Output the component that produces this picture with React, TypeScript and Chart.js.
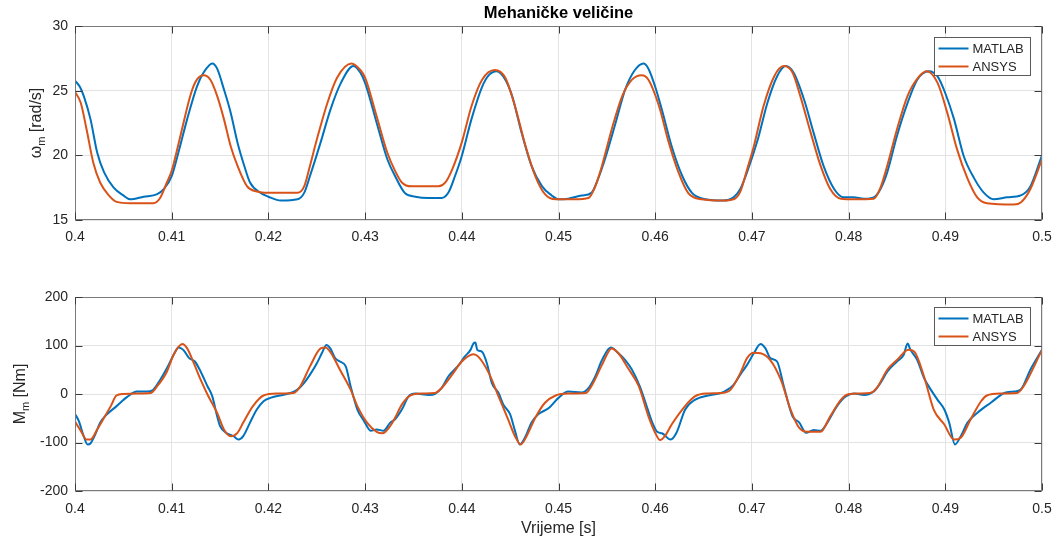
import { useEffect, useRef } from 'react';
import { Chart, registerables } from 'chart.js';

Chart.register(...registerables);

// ---------- data ----------
const seriesNames = ['MATLAB', 'ANSYS'];
const xTicks = [0.4, 0.41, 0.42, 0.43, 0.44, 0.45, 0.46, 0.47, 0.48, 0.49, 0.5];
const xTickLabels = ['0.4', '0.41', '0.42', '0.43', '0.44', '0.45', '0.46', '0.47', '0.48', '0.49', '0.5'];
const omegaTicks = [15, 20, 25, 30];
const omegaTickLabels = ['15', '20', '25', '30'];
const torqueTicks = [-200, -100, 0, 100, 200];
const torqueTickLabels = ['-200', '-100', '0', '100', '200'];

const tOmegaMatlab = [
  0.4, 0.4005, 0.4009, 0.4016, 0.4023, 0.403, 0.404, 0.405, 0.4057, 0.4071, 0.4085, 0.4092, 0.41, 0.4106, 0.4116,
  0.4126, 0.4133, 0.4142, 0.4147, 0.4154, 0.4161, 0.4168, 0.4175, 0.4181, 0.4192, 0.42, 0.4213, 0.423,
  0.4237, 0.4243, 0.4254, 0.4264, 0.4275, 0.4288, 0.4295, 0.43, 0.4312, 0.4323, 0.4331, 0.4341, 0.4352,
  0.4366, 0.4379, 0.4386, 0.4393, 0.44, 0.441, 0.4421, 0.4428, 0.4436, 0.4445, 0.4452, 0.4462, 0.4472,
  0.4483, 0.4493, 0.45, 0.451, 0.4524, 0.4534, 0.4541, 0.4548, 0.4559, 0.4569, 0.4579, 0.4588, 0.4593,
  0.46, 0.4607, 0.4617, 0.4628, 0.4638, 0.4652, 0.467, 0.4681, 0.4688, 0.4695, 0.4706, 0.4716, 0.4726,
  0.4735, 0.4743, 0.4754, 0.4764, 0.4774, 0.4785, 0.4795, 0.4805, 0.4816, 0.4826, 0.4833, 0.484, 0.485,
  0.4861, 0.4871, 0.4883, 0.4892, 0.49, 0.4909, 0.4919, 0.493, 0.494, 0.495, 0.4964, 0.4978, 0.4988, 0.5,
];
const omegaMatlab = [
  25.77, 25.3, 24.6, 22.8, 20.2, 18.7, 17.5, 16.9, 16.6, 16.8, 17.0, 17.4, 18.4, 19.95, 22.8,
  25.3, 26.4, 27.1, 26.7, 25.1, 23.3, 21.0, 19.2, 17.9, 17.1, 16.8, 16.5, 16.6,
  17.1, 18.4, 21.0, 23.5, 25.6, 26.9, 26.4, 25.6, 22.5, 19.7, 18.4, 17.1, 16.8,
  16.7, 16.7, 17.1, 18.4, 19.95, 22.8, 25.3, 26.2, 26.5, 25.85, 24.6, 21.7, 19.2,
  17.6, 16.9, 16.6, 16.65, 16.9, 17.1, 18.2, 19.7, 22.5, 25.1, 26.6, 27.1, 26.7,
  25.3, 23.5, 20.7, 18.4, 17.1, 16.6, 16.5, 16.75, 17.4, 18.7, 21.2, 24.05, 26.1,
  26.9, 26.4, 24.3, 21.7, 19.2, 17.4, 16.75, 16.75, 16.65, 16.75, 17.4, 18.7, 21.5,
  24.05, 25.85, 26.5, 26.1, 24.8, 22.8, 19.95, 18.2, 17.1, 16.6, 16.75, 16.9, 17.6, 20.0,
];

const tOmegaAnsys = [
  0.4, 0.4006, 0.4012, 0.4019, 0.4026, 0.4035, 0.4043, 0.4057, 0.4081, 0.4088, 0.4095, 0.41, 0.4109, 0.412,
  0.4126, 0.4133, 0.414, 0.4147, 0.4154, 0.4161, 0.4168, 0.4178, 0.4188, 0.42, 0.423, 0.4237, 0.4243, 0.425,
  0.4261, 0.4271, 0.4286, 0.4295, 0.43, 0.4312, 0.4323, 0.4331, 0.4338, 0.4348, 0.4376, 0.4383, 0.439, 0.44,
  0.441, 0.4421, 0.4434, 0.4445, 0.4455, 0.4466, 0.4476, 0.4486, 0.4497, 0.4517, 0.4531, 0.4538, 0.4545,
  0.4555, 0.4566, 0.4576, 0.4586, 0.4593, 0.4604, 0.4614, 0.4624, 0.4634, 0.4648, 0.467, 0.4681, 0.4688,
  0.4695, 0.4702, 0.4712, 0.4723, 0.4733, 0.4742, 0.475, 0.4761, 0.4771, 0.4781, 0.4792, 0.4806, 0.4826,
  0.4833, 0.484, 0.485, 0.4861, 0.4873, 0.4881, 0.4892, 0.4902, 0.4912, 0.4923, 0.4933, 0.4943, 0.4971,
  0.4978, 0.4988, 0.5,
];
const omegaAnsys = [
  24.9, 24.05, 22.0, 19.4, 17.9, 16.9, 16.4, 16.3, 16.3, 16.7, 17.9, 18.8, 21.5, 24.8,
  25.85, 26.2, 25.85, 24.6, 22.8, 20.7, 19.2, 17.6, 17.2, 17.1, 17.1, 17.6, 19.2, 21.2,
  24.05, 26.0, 27.1, 26.6, 26.0, 23.0, 20.2, 18.8, 17.9, 17.6, 17.6, 17.9, 18.9, 21.0,
  23.8, 25.85, 26.6, 26.0, 23.8, 20.7, 18.4, 17.0, 16.6, 16.6, 16.7, 17.6, 19.2,
  22.0, 24.6, 25.85, 26.2, 25.85, 23.8, 21.0, 18.7, 17.1, 16.6, 16.5, 16.6, 17.2,
  18.9, 20.7, 23.8, 26.1, 26.9, 26.4, 24.6, 21.7, 19.2, 17.4, 16.65, 16.6, 16.65,
  17.5, 19.2, 22.0, 24.6, 26.1, 26.5, 25.6, 23.3, 20.5, 18.2, 16.75, 16.3, 16.2,
  16.35, 17.4, 19.7,
];

const tTorqueMatlab = [
  0.4, 0.4004, 0.4009, 0.4013, 0.4016, 0.4021, 0.4026, 0.4033, 0.4043, 0.4054, 0.4064, 0.4074, 0.4081,
  0.4088, 0.4095, 0.4102, 0.4107, 0.4112, 0.4118, 0.4124, 0.413, 0.4137, 0.4142, 0.4147, 0.415, 0.4157,
  0.4164, 0.4169, 0.4174, 0.4181, 0.4188, 0.4195, 0.4202, 0.4212, 0.4223, 0.423, 0.4237, 0.4243, 0.425,
  0.4256, 0.426, 0.4264, 0.4269, 0.4274, 0.428, 0.4285, 0.4292, 0.4299, 0.4306, 0.4312, 0.4319, 0.4326,
  0.4331, 0.4338, 0.4345, 0.4352, 0.4366, 0.4372, 0.4379, 0.4386, 0.4397, 0.4403, 0.4409, 0.4412, 0.4414,
  0.4416, 0.4421, 0.4426, 0.4431, 0.4438, 0.4443, 0.445, 0.4455, 0.446, 0.4466, 0.4472, 0.4479, 0.449,
  0.45, 0.451, 0.4524, 0.4531, 0.4538, 0.4545, 0.4554, 0.4562, 0.4569, 0.4576, 0.4584, 0.459, 0.4597,
  0.4602, 0.4607, 0.4616, 0.4622, 0.4631, 0.4641, 0.4655, 0.4668, 0.4674, 0.4681, 0.4688, 0.4695, 0.4702,
  0.4709, 0.4714, 0.4719, 0.4726, 0.4733, 0.4742, 0.4749, 0.4756, 0.4764, 0.4771, 0.4778, 0.4788, 0.4797,
  0.4806, 0.4816, 0.4826, 0.4833, 0.484, 0.485, 0.4857, 0.4861, 0.4864, 0.4871, 0.4878, 0.4885, 0.4892,
  0.4899, 0.4904, 0.491, 0.4916, 0.4923, 0.4933, 0.4947, 0.4961, 0.4971, 0.4978, 0.4988, 0.5,
];
const torqueMatlab = [
  -41, -56, -87, -104, -102, -83, -59, -42, -25, -6, 5, 5, 9,
  29, 53, 81, 96, 91, 74, 67, 46, 16, -5, -46, -66, -81,
  -87, -94, -87, -59, -32, -15, -8, -3, 2, 9, 23, 40, 63,
  87, 101, 94, 74, 67, 57, 16, -32, -56, -76, -73, -76, -59,
  -52, -32, -5, 1, -2, 0, 12, 36, 60, 77, 91, 104, 106,
  91, 87, 63, 23, 2, -22, -42, -76, -104, -87, -59, -42, -29,
  -8, 5, 3, 12, 36, 70, 96, 84, 70, 50, 16, -18, -59,
  -78, -81, -94, -80, -32, -12, -3, 2, 8, 19, 40, 60, 84,
  103, 94, 74, 67, 16, -46, -59, -80, -74, -76, -59, -25, -5,
  1, -2, 5, 23, 46, 67, 81, 104, 91, 70, 33, 9, -12,
  -32, -59, -104, -87, -59, -39, -18, 2, 5, 9, 50, 91,
];

const tTorqueAnsys = [
  0.4, 0.4006, 0.4012, 0.4016, 0.4023, 0.403, 0.4037, 0.4043, 0.405, 0.4064, 0.4078, 0.4085, 0.4095,
  0.4102, 0.4111, 0.4116, 0.4123, 0.413, 0.4137, 0.4147, 0.4154, 0.4161, 0.4168, 0.4174, 0.4184, 0.4195,
  0.4209, 0.4226, 0.4233, 0.4243, 0.4254, 0.4259, 0.4264, 0.4274, 0.4285, 0.4292, 0.4302, 0.4312, 0.4318,
  0.4326, 0.4331, 0.4338, 0.4347, 0.4359, 0.4372, 0.4379, 0.439, 0.44, 0.4412, 0.4417, 0.4428, 0.4438,
  0.4448, 0.4455, 0.4461, 0.4467, 0.4476, 0.4486, 0.4497, 0.451, 0.4528, 0.4534, 0.4545, 0.4555, 0.4562,
  0.4572, 0.4583, 0.4593, 0.46, 0.4605, 0.461, 0.4617, 0.4628, 0.4641, 0.4655, 0.4668, 0.4678, 0.4688,
  0.4695, 0.4702, 0.4709, 0.4719, 0.473, 0.474, 0.4749, 0.4757, 0.4771, 0.4781, 0.4792, 0.4799, 0.4812,
  0.4822, 0.4829, 0.484, 0.485, 0.4862, 0.4868, 0.4878, 0.4888, 0.4899, 0.4909, 0.4916, 0.4926, 0.4937,
  0.4943, 0.4957, 0.4974, 0.4981, 0.5,
];
const torqueAnsys = [
  -57, -76, -94, -94, -73, -49, -25, -3, 0, 1, 2, 16, 46,
  81, 103, 94, 63, 29, -1, -39, -73, -87, -80, -59, -25, -3,
  1, 2, 16, 57, 94, 96, 87, 50, 9, -25, -59, -78, -81,
  -66, -49, -22, -3, 1, 2, 12, 40, 67, 82, 77, 43, -5,
  -53, -87, -104, -87, -49, -18, -3, 1, 2, 16, 60, 94, 84,
  53, 16, -46, -80, -95, -87, -63, -32, -5, 1, 2, 9, 43,
  74, 85, 84, 70, 29, -32, -70, -78, -78, -46, -12, -1, 1,
  2, 12, 50, 70, 91, 87, 36, -32, -63, -94, -90, -53, -15,
  -3, 1, 2, 16, 91,
];

// ---------- styling ----------
const FONT = '"Liberation Sans", Arial, Helvetica, sans-serif';
const BLUE = '#0072BD';
const ORANGE = '#D95319';
const TEXT = '#262626';
const GRID = '#e3e3e3';
const W = 1057;

type PlotOpts = {
  tA: number[]; vA: number[]; tB: number[]; vB: number[];
  yMin: number; yMax: number; yTicks: number[]; yLabels: string[];
  padTop: number; xAxisHeight: number; xTickPad: number;
  yLabelMain: string; yLabelRest: string; yLabelX: number;
  legendTop: number; title?: string; xTitle?: string; xTitleY?: number;
};

function decorPlugin(o: PlotOpts) {
  return {
    id: 'decor',
    afterDraw(chart: any) {
      const ctx = chart.ctx as CanvasRenderingContext2D;
      const a = chart.chartArea;
      const xs = chart.scales.x;
      const ys = chart.scales.y;
      ctx.save();
      // axes box
      const L = Math.round(a.left) + 0.5, R = Math.round(a.right) - 0.5;
      const T = Math.round(a.top) + 0.5, B = Math.round(a.bottom) - 0.5;
      ctx.strokeStyle = '#7a7a7a';
      ctx.lineWidth = 1;
      ctx.strokeRect(L, T, R - L, B - T);
      // inward ticks
      ctx.strokeStyle = '#3a3a3a';
      ctx.beginPath();
      const tl = 7;
      xTicks.forEach((v) => {
        const px = Math.round(xs.getPixelForValue(v)) + 0.5;
        ctx.moveTo(px, B); ctx.lineTo(px, B - tl);
        ctx.moveTo(px, T); ctx.lineTo(px, T + tl);
      });
      o.yTicks.forEach((v) => {
        const py = Math.round(ys.getPixelForValue(v)) + 0.5;
        ctx.moveTo(L, py); ctx.lineTo(L + tl, py);
        ctx.moveTo(R, py); ctx.lineTo(R - tl, py);
      });
      ctx.stroke();

      // legend
      const bw = 96, bh = 38;
      const bx = Math.round(a.right) - 12 - bw + 0.5;
      const by = Math.round(a.top) + o.legendTop + 0.5;
      ctx.fillStyle = '#ffffff';
      ctx.fillRect(bx, by, bw, bh);
      ctx.strokeStyle = '#5a5a5a';
      ctx.strokeRect(bx, by, bw, bh);
      const colors = [BLUE, ORANGE];
      ctx.font = `13px ${FONT}`;
      ctx.textBaseline = 'middle';
      ctx.textAlign = 'left';
      seriesNames.forEach((name, i) => {
        const ry = by + 11 + i * 18;
        ctx.strokeStyle = colors[i];
        ctx.lineWidth = 2;
        ctx.beginPath();
        ctx.moveTo(bx + 4, ry); ctx.lineTo(bx + 34, ry);
        ctx.stroke();
        ctx.fillStyle = TEXT;
        ctx.fillText(name, bx + 38, ry + 0.5);
      });

      // y label with subscript, rotated
      const cy = (a.top + a.bottom) / 2;
      ctx.fillStyle = TEXT;
      ctx.translate(o.yLabelX, cy);
      ctx.rotate(-Math.PI / 2);
      ctx.textBaseline = 'alphabetic';
      ctx.textAlign = 'left';
      const mainFont = `16px ${FONT}`;
      const subFont = `11px ${FONT}`;
      ctx.font = mainFont;
      const w1 = ctx.measureText(o.yLabelMain).width;
      const w3 = ctx.measureText(o.yLabelRest).width;
      ctx.font = subFont;
      const w2 = ctx.measureText('m').width;
      const total = w1 + w2 + w3;
      let x = -total / 2;
      ctx.font = mainFont;
      ctx.fillText(o.yLabelMain, x, 0);
      x += w1;
      ctx.font = subFont;
      ctx.fillText('m', x, 4);
      x += w2;
      ctx.font = mainFont;
      ctx.fillText(o.yLabelRest, x, 0);
      ctx.setTransform(1, 0, 0, 1, 0, 0);

      // title
      if (o.title) {
        ctx.font = `bold 16.5px ${FONT}`;
        ctx.textAlign = 'center';
        ctx.textBaseline = 'middle';
        ctx.fillStyle = '#000000';
        ctx.fillText(o.title, (a.left + a.right) / 2, 13);
      }
      if (o.xTitle) {
        ctx.font = `16px ${FONT}`;
        ctx.textAlign = 'center';
        ctx.textBaseline = 'middle';
        ctx.fillStyle = TEXT;
        ctx.fillText(o.xTitle, (a.left + a.right) / 2, o.xTitleY || 0);
      }
      ctx.restore();
    },
  };
}

function makeConfig(o: PlotOpts): any {
  const pts = (t: number[], v: number[]) => t.map((x, i) => ({ x, y: v[i] }));
  return {
    type: 'line',
    data: {
      datasets: [
        {
          label: seriesNames[1], data: pts(o.tB, o.vB), borderColor: ORANGE, borderWidth: 2,
          pointRadius: 0, cubicInterpolationMode: 'monotone', fill: false,
        },
        {
          label: seriesNames[0], data: pts(o.tA, o.vA), borderColor: BLUE, borderWidth: 2,
          pointRadius: 0, cubicInterpolationMode: 'monotone', fill: false,
        },
      ],
    },
    options: {
      animation: false,
      responsive: false,
      maintainAspectRatio: false,
      events: [],
      layout: { padding: { top: o.padTop, right: 15, left: 0, bottom: 0 } },
      plugins: { legend: { display: false }, tooltip: { enabled: false }, title: { display: false } },
      scales: {
        x: {
          type: 'linear', min: 0.4, max: 0.5,
          afterBuildTicks: (s: any) => { s.ticks = xTicks.map((value) => ({ value })); },
          afterFit: (s: any) => { s.height = o.xAxisHeight; s.paddingLeft = 0; s.paddingRight = 0; },
          ticks: {
            callback: (_v: any, i: number) => xTickLabels[i],
            font: { family: FONT, size: 14 }, color: TEXT, padding: o.xTickPad,
            maxRotation: 0, autoSkip: false,
          },
          grid: { color: GRID, drawTicks: false, lineWidth: 1 },
          border: { display: false },
        },
        y: {
          type: 'linear', min: o.yMin, max: o.yMax,
          afterBuildTicks: (s: any) => { s.ticks = o.yTicks.map((value) => ({ value })); },
          afterFit: (s: any) => { s.width = 75; s.paddingTop = 0; s.paddingBottom = 0; },
          ticks: {
            callback: (_v: any, i: number) => o.yLabels[i],
            font: { family: FONT, size: 14 }, color: TEXT, padding: 7, autoSkip: false,
          },
          grid: { color: GRID, drawTicks: false, lineWidth: 1 },
          border: { display: false },
        },
      },
    },
    plugins: [decorPlugin(o)],
  };
}

export default function App() {
  const ref1 = useRef<HTMLCanvasElement | null>(null);
  const ref2 = useRef<HTMLCanvasElement | null>(null);

  useEffect(() => {
    const c1 = new Chart(ref1.current as HTMLCanvasElement, makeConfig({
      tA: tOmegaMatlab, vA: omegaMatlab, tB: tOmegaAnsys, vB: omegaAnsys,
      yMin: 15, yMax: 30, yTicks: omegaTicks, yLabels: omegaTickLabels,
      padTop: 26, xAxisHeight: 50, xTickPad: 9,
      yLabelMain: 'ω', yLabelRest: ' [rad/s]', yLabelX: 41,
      legendTop: 11, title: 'Mehaničke veličine',
    }));
    const c2 = new Chart(ref2.current as HTMLCanvasElement, makeConfig({
      tA: tTorqueMatlab, vA: torqueMatlab, tB: tTorqueAnsys, vB: torqueAnsys,
      yMin: -200, yMax: 200, yTicks: torqueTicks, yLabels: torqueTickLabels,
      padTop: 27, xAxisHeight: 54, xTickPad: 10,
      yLabelMain: 'M', yLabelRest: ' [Nm]', yLabelX: 25,
      legendTop: 10, xTitle: 'Vrijeme [s]', xTitleY: 259,
    }));
    return () => { c1.destroy(); c2.destroy(); };
  }, []);

  return (
    <div style={{ position: 'absolute', left: 0, top: 0, width: W, height: 545, background: '#fff' }}>
      <canvas ref={ref1} width={W} height={270}
        style={{ position: 'absolute', left: 0, top: 0, width: W, height: 270, display: 'block' }} />
      <canvas ref={ref2} width={W} height={275}
        style={{ position: 'absolute', left: 0, top: 270, width: W, height: 275, display: 'block' }} />
    </div>
  );
}
